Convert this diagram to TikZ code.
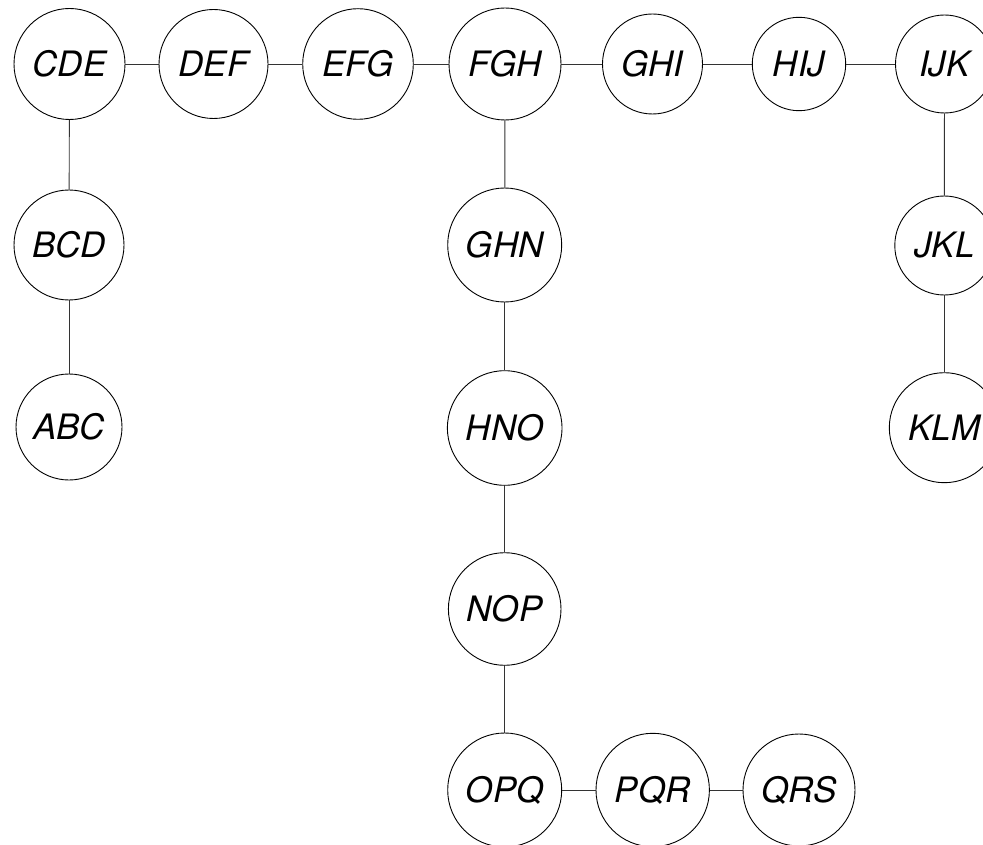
\documentclass[tikz,border=0pt]{standalone}
\usepackage{fontspec}
\setmainfont{TeX Gyre Heros}
\begin{document}
\begin{tikzpicture}[x=1pt,y=-1pt,
  vtx/.style={draw=black,line width=0.9pt,circle,inner sep=0pt,
    font=\fontsize{35}{35}\selectfont\itshape,text height=25pt,text depth=0pt},
  link/.style={draw=black!80,line width=0.9pt}]
\useasboundingbox (0,0) rectangle (983,845);
% top row
\node[vtx,minimum size=111pt] (CDE) at (69.5,64) {CDE};
\node[vtx,minimum size=109pt] (DEF) at (213.5,64) {DEF};
\node[vtx,minimum size=110.6pt] (EFG) at (358,64) {EFG};
\node[vtx,minimum size=112pt] (FGH) at (505,64) {FGH};
\node[vtx,minimum size=100pt] (GHI) at (652.5,64) {GHI};
\node[vtx,minimum size=93.4pt] (HIJ) at (799,64) {HIJ};
\node[vtx,minimum size=98pt] (IJK) at (944.5,64) {IJK};
% left column
\node[vtx,minimum size=110pt] (BCD) at (69,245) {BCD};
\node[vtx,minimum size=106pt] (ABC) at (69,427) {ABC};
% middle column
\node[vtx,minimum size=114pt] (GHN) at (504.7,245) {GHN};
\node[vtx,minimum size=114.6pt] (HNO) at (504.7,428) {HNO};
\node[vtx,minimum size=112.6pt] (NOP) at (504.7,609) {NOP};
\node[vtx,minimum size=114pt] (OPQ) at (504.7,790) {OPQ};
\node[vtx,minimum size=113.4pt] (PQR) at (652.7,790) {PQR};
\node[vtx,minimum size=112pt] (QRS) at (799,790) {QRS};
% right column
\node[vtx,minimum size=99pt] (JKL) at (944.3,245.5) {JKL};
\node[vtx,minimum size=110pt] (KLM) at (944.3,427.7) {KLM};
% connectors
\draw[link] (CDE) -- (DEF);
\draw[link] (DEF) -- (EFG);
\draw[link] (EFG) -- (FGH);
\draw[link] (FGH) -- (GHI);
\draw[link] (GHI) -- (HIJ);
\draw[link] (HIJ) -- (IJK);
\draw[link] (CDE) -- (BCD);
\draw[link] (BCD) -- (ABC);
\draw[link] (FGH) -- (GHN);
\draw[link] (GHN) -- (HNO);
\draw[link] (HNO) -- (NOP);
\draw[link] (NOP) -- (OPQ);
\draw[link] (OPQ) -- (PQR);
\draw[link] (PQR) -- (QRS);
\draw[link] (IJK) -- (JKL);
\draw[link] (JKL) -- (KLM);
\end{tikzpicture}
\end{document}
